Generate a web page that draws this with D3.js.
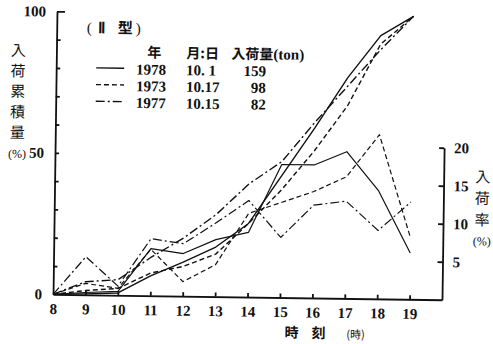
<!DOCTYPE html>
<html><head><meta charset="utf-8">
<script src="https://cdn.jsdelivr.net/npm/d3@7"></script>
<style>
html,body{margin:0;padding:0;background:#fff;}
svg{display:block;}
</style></head><body>
<svg id="chart" width="493" height="344"></svg>
<script>
// Hours of the day (8 to 19 o'clock)
const hours = [8, 9, 10, 11, 12, 13, 14, 15, 16, 17, 18, 19];

// Legend table
const years    = ["1978", "1973", "1977"];
const dates    = ["10. 1", "10.17", "10.15"];
const tonnage  = ["159", "98", "82"];

// Cumulative arrivals (%), left axis
const cum1978 = [0, 0.3, 0.8, 7.0, 12.0, 17.5, 26.0, 43.0, 60.0, 78.0, 93.0, 100];
const cum1973 = [0, 1.5, 2.4, 8.0, 10.5, 15.0, 26.0, 38.0, 52.0, 68.0, 90.0, 100];
const cum1977 = [0, 4.6, 5.5, 13.5, 20.5, 29.0, 40.0, 48.0, 62.0, 75.0, 88.0, 100];

// Hourly arrival rate (%), right axis
const rate1978 = [0, 0.3, 0.5, 6.2, 5.6, 7.5, 8.5, 17.5, 17.5, 19.3, 14.2, 6.1];
const rate1973 = [0, 1.5, 0.9, 6.1, 1.9, 4.2, 11.0, 12.5, 14.0, 16.0, 21.6, 8.1];
const rate1977 = [0, 5.0, 1.2, 7.5, 6.9, 9.7, 12.7, 7.9, 12.2, 12.8, 9.0, 12.8];

// Axis ticks
const leftTicks  = [0, 10, 20, 30, 40, 50, 60, 70, 80, 90, 100];
const leftLabels = [0, 50, 100];
const rightTicks = [5, 10, 15, 20];

const serif = "'Liberation Serif','Times New Roman',serif";
const cjk = "'Noto Sans CJK JP','Noto Sans CJK SC',sans-serif";
const ink = "#111";

const svg = d3.select("#chart");
svg.append("rect").attr("width", 493).attr("height", 344).attr("fill", "#fff");

// the whole figure sits at a slight clockwise tilt
const g = svg.append("g").attr("transform", "rotate(0.8 247 155)");

const x  = d3.scaleLinear().domain([8, 20]).range([55, 444]);
const yL = d3.scaleLinear().domain([0, 100]).range([297, 14]);
const yR = d3.scaleLinear().domain([0, 20]).range([297, 145]);

function styleAxis(sel) {
  sel.selectAll("path, line").attr("stroke", ink).attr("stroke-width", 1.8);
  sel.selectAll("text")
    .attr("font-family", serif).attr("font-size", 15).attr("font-weight", "bold")
    .attr("fill", ink);
  sel.attr("font-family", null).attr("font-size", null);
}

// bottom axis (hours), ticks pointing up
const xAxis = g.append("g").attr("transform", "translate(0,297)")
  .call(d3.axisBottom(x).tickValues(hours).tickSize(-4).tickSizeOuter(0)
    .tickPadding(9).tickFormat(d3.format("d")));
styleAxis(xAxis);
xAxis.selectAll(".tick").filter(d => d === 8).select("line").remove();

// left axis (cumulative %), ticks pointing right
const yAxisL = g.append("g").attr("transform", "translate(55,0)")
  .call(d3.axisLeft(yL).tickValues(leftTicks).tickSize(-4).tickSizeOuter(0)
    .tickPadding(11).tickFormat(d => leftLabels.includes(d) ? d : ""));
styleAxis(yAxisL);
yAxisL.selectAll(".tick").filter(d => d === 100).select("line").attr("x2", 8);
yAxisL.selectAll(".tick").filter(d => d === 0).select("line").remove();

// right axis (rate %), ticks pointing left
const yAxisR = g.append("g").attr("transform", "translate(444,0)")
  .call(d3.axisRight(yR).tickValues(rightTicks).tickSize(-5).tickSizeOuter(0)
    .tickPadding(10).tickFormat(d3.format("d")));
styleAxis(yAxisR);

// series lines
const dashFor = { "1978": null, "1973": "5,3", "1977": "9,3,2,3" };
const series = [
  { year: "1978", cum: cum1978, rate: rate1978 },
  { year: "1973", cum: cum1973, rate: rate1973 },
  { year: "1977", cum: cum1977, rate: rate1977 }
];
const lineOn = scale => d3.line().x((d, i) => x(hours[i])).y(d => scale(d));

series.forEach(s => {
  g.append("path").datum(s.cum).attr("d", lineOn(yL))
    .attr("fill", "none").attr("stroke", ink).attr("stroke-width", 1.4)
    .attr("stroke-linejoin", "round").attr("stroke-dasharray", dashFor[s.year]);
  g.append("path").datum(s.rate).attr("d", lineOn(yR))
    .attr("fill", "none").attr("stroke", ink).attr("stroke-width", 1.2)
    .attr("stroke-linejoin", "round").attr("stroke-dasharray", dashFor[s.year]);
});

// axis titles
const leftTitle = ["入", "荷", "累", "積", "量"];
leftTitle.forEach((c, i) => {
  g.append("text").attr("x", 17).attr("y", 59 + i * 20.5).attr("text-anchor", "middle")
    .attr("font-family", cjk).attr("font-size", 15).attr("fill", ink).text(c);
});
g.append("text").attr("x", 17).attr("y", 161).attr("text-anchor", "middle")
  .attr("font-family", serif).attr("font-size", 12).attr("fill", ink).text("(%)");

const rightTitle = ["入", "荷", "率"];
rightTitle.forEach((c, i) => {
  g.append("text").attr("x", 483).attr("y", 179 + i * 21.5).attr("text-anchor", "middle")
    .attr("font-family", cjk).attr("font-size", 15).attr("fill", ink).text(c);
});
g.append("text").attr("x", 483).attr("y", 242).attr("text-anchor", "middle")
  .attr("font-family", serif).attr("font-size", 12).attr("fill", ink).text("(%)");

g.append("text").attr("x", 294).attr("y", 337).attr("text-anchor", "middle")
  .attr("font-family", cjk).attr("font-size", 14).attr("font-weight", "bold").attr("fill", ink).text("時");
g.append("text").attr("x", 321).attr("y", 337).attr("text-anchor", "middle")
  .attr("font-family", cjk).attr("font-size", 14).attr("font-weight", "bold").attr("fill", ink).text("刻");
g.append("text").attr("x", 358).attr("y", 337).attr("text-anchor", "middle")
  .attr("font-family", cjk).attr("font-size", 11).attr("fill", ink).text("(時)");

// legend
const leg = g.append("g");
leg.append("text").attr("x", 85).attr("y", 35).attr("font-family", serif)
  .attr("font-size", 15).attr("fill", ink).text("(");
leg.append("text").attr("x", 96).attr("y", 35).attr("font-family", serif)
  .attr("font-size", 15).attr("font-weight", "bold").attr("fill", ink).text("Ⅱ");
leg.append("text").attr("x", 116).attr("y", 35).attr("font-family", cjk)
  .attr("font-size", 15).attr("font-weight", "bold").attr("fill", ink).text("型");
leg.append("text").attr("x", 134).attr("y", 35).attr("font-family", serif)
  .attr("font-size", 15).attr("fill", ink).text(")");

leg.append("text").attr("x", 153).attr("y", 59).attr("text-anchor", "middle")
  .attr("font-family", cjk).attr("font-size", 14).attr("font-weight", "bold").attr("fill", ink).text("年");
leg.append("text").attr("x", 185).attr("y", 59)
  .attr("font-family", cjk).attr("font-size", 14).attr("font-weight", "bold").attr("fill", ink).text("月:日");
const head = leg.append("text").attr("x", 230).attr("y", 59).attr("fill", ink);
head.append("tspan").attr("font-family", cjk).attr("font-size", 14).attr("font-weight", "bold").text("入荷量");
head.append("tspan").attr("font-family", serif).attr("font-size", 15).attr("font-weight", "bold").text("(ton)");

years.forEach((yr, i) => {
  const cy = 70 + i * 16.7;
  leg.append("line").attr("x1", 95).attr("x2", 123).attr("y1", cy).attr("y2", cy)
    .attr("stroke", ink).attr("stroke-width", 1.4).attr("stroke-dasharray", dashFor[yr]);
  leg.append("text").attr("x", 135).attr("y", cy + 6).attr("font-family", serif)
    .attr("font-size", 15).attr("font-weight", "bold").attr("fill", ink).text(yr);
  leg.append("text").attr("x", 185).attr("y", cy + 6).attr("font-family", serif)
    .attr("font-size", 15).attr("font-weight", "bold").attr("fill", ink).attr("xml:space", "preserve")
    .style("white-space", "pre").text(dates[i]);
  leg.append("text").attr("x", 265).attr("y", cy + 6).attr("text-anchor", "end")
    .attr("font-family", serif).attr("font-size", 15).attr("font-weight", "bold").attr("fill", ink).text(tonnage[i]);
});
</script>
</body></html>
